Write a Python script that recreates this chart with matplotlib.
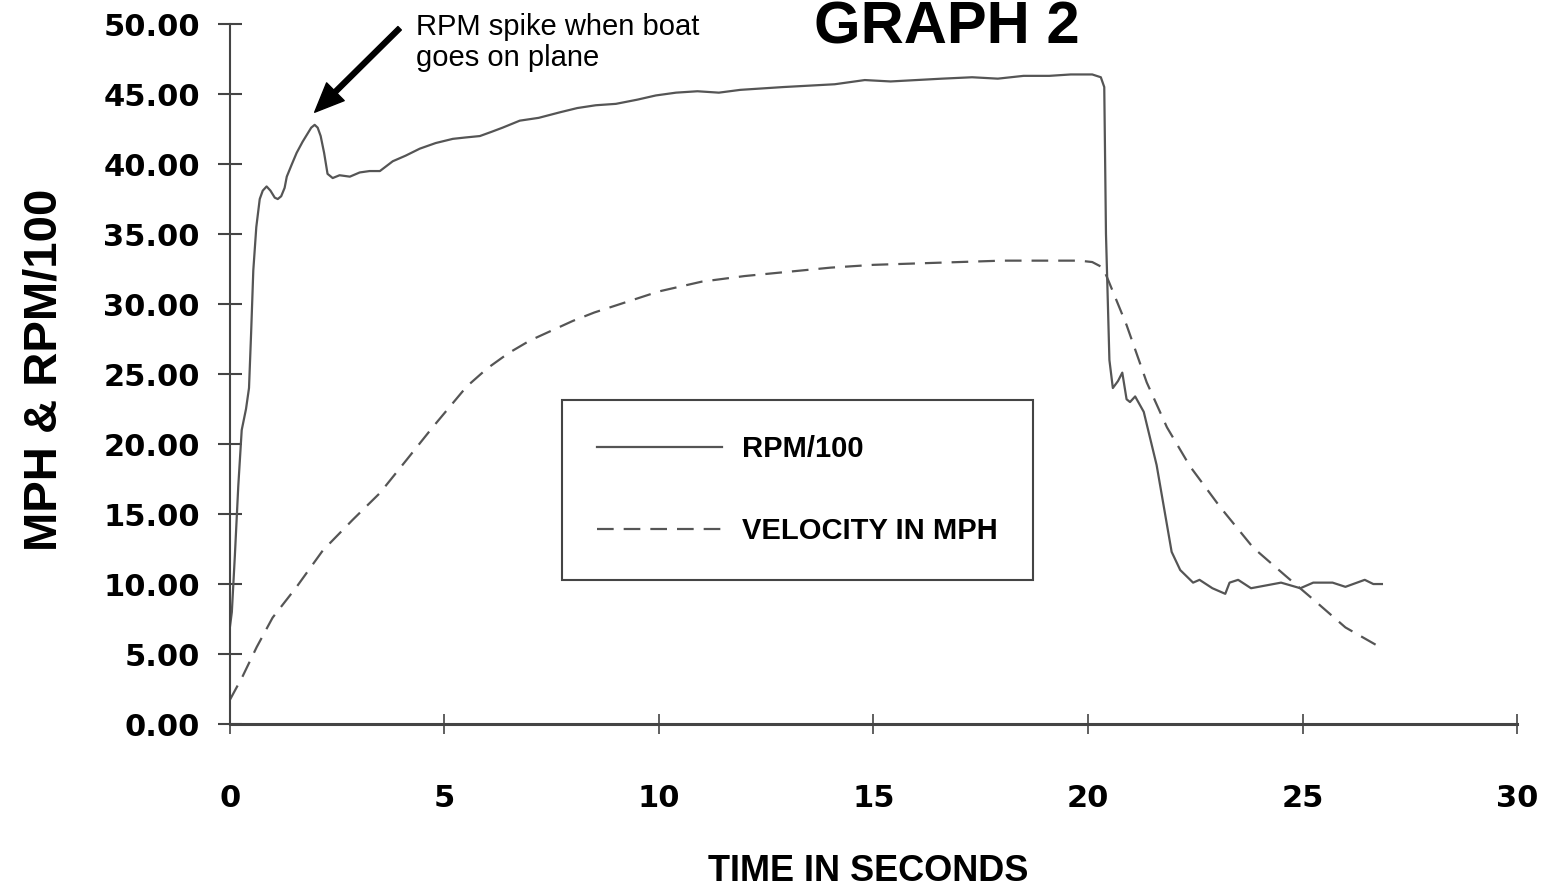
import matplotlib
matplotlib.use("Agg")
import matplotlib.pyplot as plt

# data
rpm_t = [0.0, 0.05, 0.12, 0.2, 0.28, 0.38, 0.45, 0.5, 0.55, 0.62, 0.7, 0.77, 0.86,
         0.95, 1.05, 1.12, 1.2, 1.28, 1.33, 1.45, 1.56, 1.7, 1.8, 1.9, 1.98, 2.05,
         2.12, 2.2, 2.28, 2.4, 2.56, 2.8, 3.03, 3.26, 3.5, 3.8, 4.1, 4.43, 4.8, 5.2,
         5.5, 5.83, 6.1, 6.36, 6.76, 7.2, 7.7, 8.1, 8.53, 9.0, 9.5, 9.93, 10.4, 10.9,
         11.4, 11.9, 12.4, 12.9, 13.5, 14.1, 14.8, 15.4, 16.0, 16.6, 17.3, 17.9, 18.5,
         19.1, 19.6, 20.1, 20.3, 20.38, 20.42, 20.5, 20.58, 20.7, 20.8, 20.9, 20.98,
         21.1, 21.3, 21.6, 21.95, 22.15, 22.45, 22.6, 22.9, 23.2, 23.3, 23.5, 23.8,
         24.15, 24.5, 24.95, 25.25, 25.7, 26.0, 26.45, 26.65, 26.85]
rpm = [6.8, 8.0, 12.0, 17.0, 21.0, 22.5, 24.0, 28.0, 32.4, 35.5, 37.5, 38.1, 38.4,
       38.1, 37.6, 37.5, 37.7, 38.3, 39.1, 40.0, 40.8, 41.6, 42.1, 42.6, 42.8, 42.6,
       42.0, 40.8, 39.3, 39.0, 39.2, 39.1, 39.4, 39.5, 39.5, 40.2, 40.6, 41.1, 41.5, 41.8,
       41.9, 42.0, 42.3, 42.6, 43.1, 43.3, 43.7, 44.0, 44.2, 44.3, 44.6, 44.9, 45.1, 45.2,
       45.1, 45.3, 45.4, 45.5, 45.6, 45.7, 46.0, 45.9, 46.0, 46.1, 46.2, 46.1, 46.3,
       46.3, 46.4, 46.4, 46.2, 45.5, 35.0, 26.0, 24.0, 24.5, 25.1, 23.2, 23.0,
       23.4, 22.3, 18.5, 12.3, 11.0, 10.1, 10.3, 9.7, 9.3, 10.1, 10.3, 9.7,
       9.9, 10.1, 9.7, 10.1, 10.1, 9.8, 10.3, 10.0, 10.0]

vel_t = [0, 0.3, 0.63, 1.0, 1.56, 2.17, 2.87, 3.5, 4.13, 4.73, 5.52, 6.0, 6.5, 7.0,
         7.5, 8.0, 8.5, 9.0, 9.5, 10, 11, 12, 13, 14, 15, 16, 17, 18, 19, 19.8, 20.1,
         20.35, 20.5, 20.9, 21.37, 21.84, 22.38, 23.08, 23.85, 24.6, 25.25, 26.0, 26.8]
vel = [1.7, 3.4, 5.5, 7.6, 9.8, 12.4, 14.6, 16.5, 18.9, 21.2, 24.1, 25.4, 26.5, 27.4,
       28.1, 28.8, 29.4, 29.9, 30.4, 30.9, 31.6, 32.0, 32.3, 32.6, 32.8, 32.9, 33.0,
       33.1, 33.1, 33.1, 33.0, 32.6, 31.5, 28.5, 24.4, 21.2, 18.4, 15.5, 12.6, 10.6,
       8.9, 6.9, 5.5]

x_ticks = [0, 5, 10, 15, 20, 25, 30]
y_ticks = [0, 5, 10, 15, 20, 25, 30, 35, 40, 45, 50]

line_col = "#555555"
axis_col = "#444444"

fig = plt.figure(figsize=(15.52, 8.91), dpi=100)
ax = fig.add_axes([0.148, 0.1874, 0.8295, 0.7856])

ax.plot(rpm_t, rpm, color=line_col, lw=1.6, label="RPM/100")
ax.plot(vel_t, vel, color=line_col, lw=1.6, dashes=(7.5, 4.5), label="VELOCITY IN MPH")

ax.set_xlim(0, 30)
ax.set_ylim(0, 50)
ax.set_xticks(x_ticks)
ax.set_yticks(y_ticks)
ax.set_yticklabels(["%.2f" % v for v in y_ticks])

for s in ["top", "right"]:
    ax.spines[s].set_visible(False)
ax.spines["left"].set_color(axis_col)
ax.spines["left"].set_linewidth(1.5)
ax.spines["bottom"].set_color(axis_col)
ax.spines["bottom"].set_linewidth(2.2)

ax.tick_params(axis="y", direction="inout", length=17, width=1.5, color=axis_col, pad=13)
ax.tick_params(axis="x", direction="inout", length=14, width=1.2, color=axis_col, pad=36)
for lab in ax.get_yticklabels() + ax.get_xticklabels():
    lab.set_fontfamily("DejaVu Sans")
    lab.set_fontweight("bold")
    lab.set_fontsize(22)

ax.set_xlabel("TIME IN SECONDS", fontfamily="Liberation Sans", fontweight="bold", fontsize=26)
ax.xaxis.set_label_coords(0.496, -0.185)
ax.set_ylabel("MPH & RPM/100", fontfamily="Liberation Sans", fontweight="bold", fontsize=34)
ax.yaxis.set_label_coords(-0.127, 0.506)

fig.text(0.610, 1 - 43 / 891, "GRAPH 2", fontfamily="Liberation Sans", fontweight="bold",
         fontsize=43, ha="center", va="baseline")

ax.annotate("", xy=(1.98, 43.7), xytext=(3.96, 49.7), annotation_clip=False,
            arrowprops=dict(facecolor="black", edgecolor="black", width=3.5,
                            headwidth=18, headlength=21, shrink=0))
ax.text(4.34, 50.8, "RPM spike when boat\ngoes on plane", fontfamily="Liberation Sans",
        fontsize=21, ha="left", va="top", linespacing=1.15, clip_on=False)

leg = ax.legend(loc="upper left", bbox_to_anchor=(0.258, 0.463), borderaxespad=0,
                prop={"family": "Liberation Sans", "weight": "bold", "size": 21},
                handlelength=4.3, handletextpad=0.68, labelspacing=1.87, borderpad=1.2,
                fancybox=False, framealpha=1)
leg.get_frame().set_edgecolor(axis_col)
leg.get_frame().set_linewidth(1.5)

fig.savefig("out.png", dpi=100, facecolor="white")
